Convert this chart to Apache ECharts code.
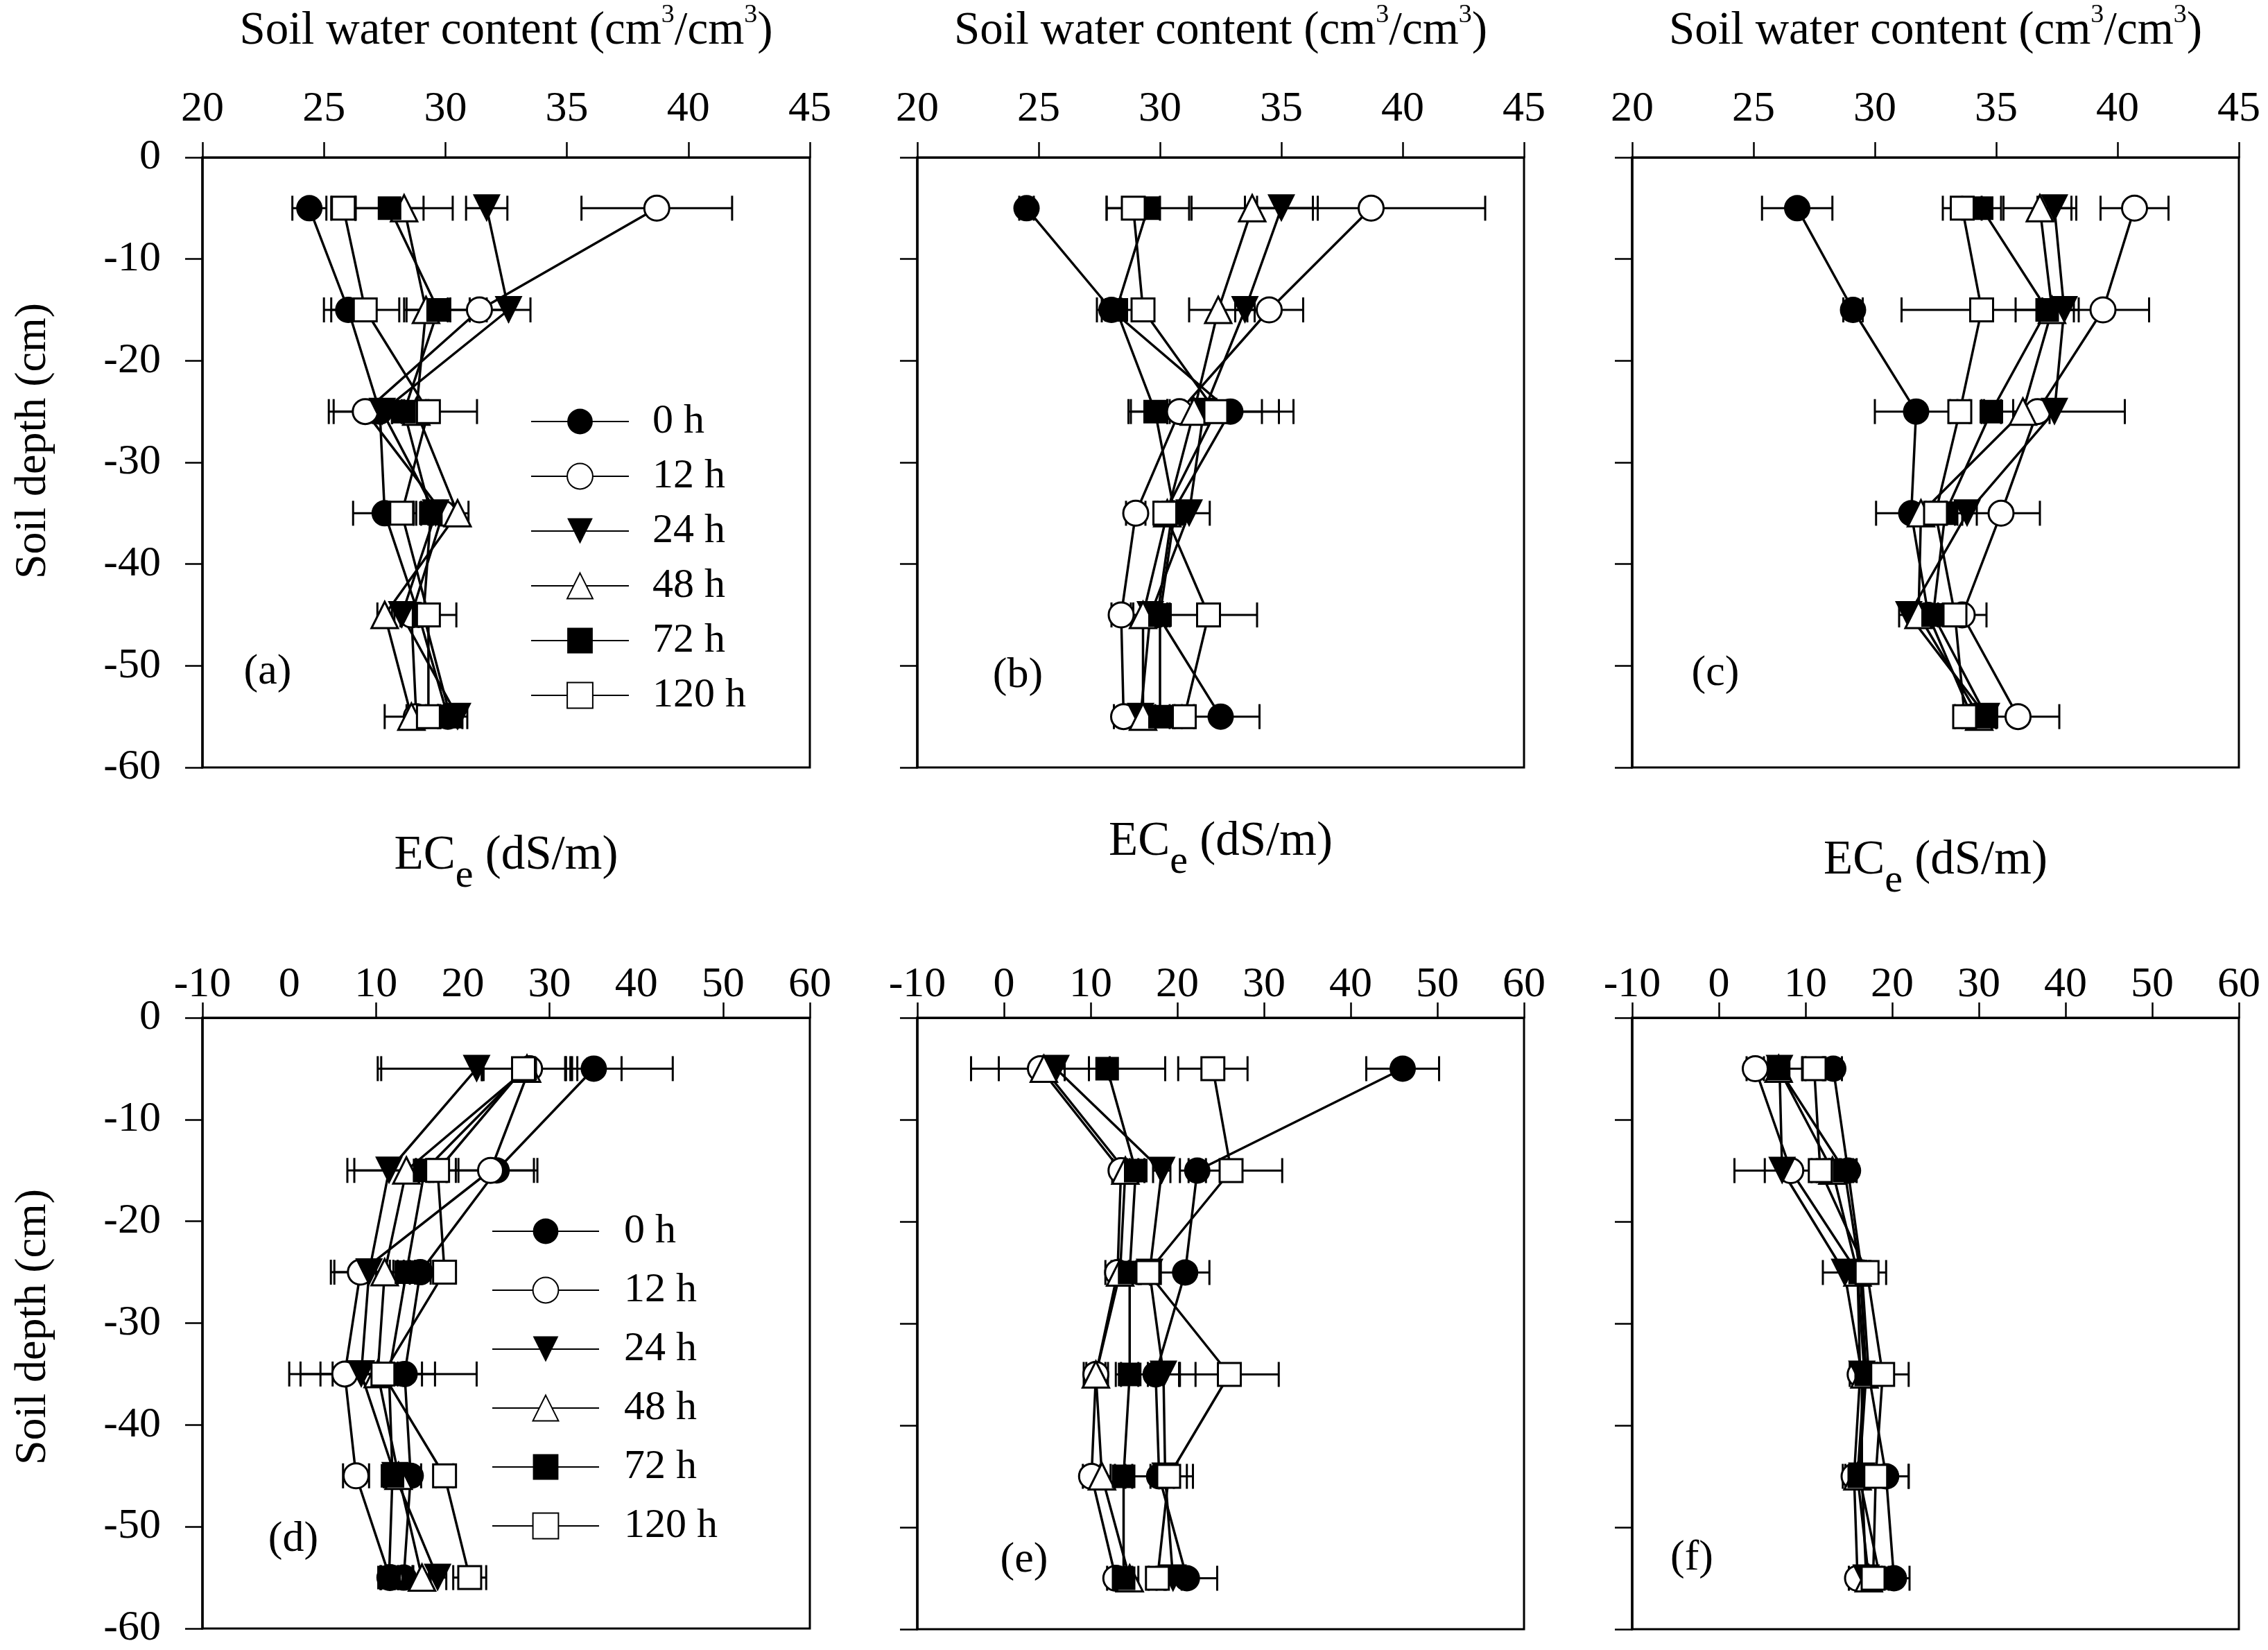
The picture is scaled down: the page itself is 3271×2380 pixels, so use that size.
<!DOCTYPE html>
<html><head><meta charset="utf-8">
<script src="https://cdn.jsdelivr.net/npm/echarts@6/dist/echarts.min.js"></script>
<style>html,body{margin:0;padding:0;background:#fff}#c{width:3271px;height:2380px}</style>
</head><body><div id="c"></div>
<script>
// ---------------- DATA ----------------
const depths = [-5, -15, -25, -35, -45, -55];
const timeNames = ['0 h', '12 h', '24 h', '48 h', '72 h', '120 h'];
const swcTicks = [20, 25, 30, 35, 40, 45];
const ecTicks = [-10, 0, 10, 20, 30, 40, 50, 60];
const depthTicks = [0, -10, -20, -30, -40, -50, -60];

// rows: 0 h, 12 h, 24 h, 48 h, 72 h, 120 h ; columns: depths
const swcA = [
  [24.4, 26.0, 27.3, 27.5, 28.9, 30.1],
  [38.7, 31.4, 26.7, 29.9, 28.6, 28.8],
  [31.7, 32.6, 27.4, 29.6, 28.2, 30.5],
  [28.3, 29.2, 28.8, 30.5, 27.5, 28.6],
  [27.7, 29.7, 28.3, 29.4, 29.1, 30.2],
  [25.8, 26.7, 29.3, 28.2, 29.3, 29.3]
];
const swcA_sd = [
  [0.7, 1.0, 1.9, 1.3, 0.4, 0.4],
  [3.1, 1.2, 1.5, 0.4, 0.4, 0.4],
  [0.85, 0.9, 0.4, 0.3, 0.3, 0.4],
  [2.0, 0.9, 0.5, 0.45, 0.3, 1.1],
  [1.4, 1.3, 0.5, 0.4, 0.4, 0.5],
  [0.5, 1.4, 2.0, 0.5, 1.15, 0.5]
];
const swcB = [
  [24.5, 28.0, 32.9, 30.5, 29.9, 32.5],
  [38.7, 34.5, 30.8, 29.0, 28.4, 28.5],
  [35.0, 33.5, 31.8, 31.2, 29.6, 29.2],
  [33.8, 32.4, 31.4, 30.3, 29.3, 29.3],
  [29.5, 28.2, 29.8, 30.6, 30.0, 30.0],
  [28.9, 29.3, 32.3, 30.2, 32.0, 31.0]
];
const swcB_sd = [
  [0.3, 0.4, 2.6, 0.4, 0.4, 1.6],
  [4.7, 1.4, 0.5, 0.4, 0.4, 0.4],
  [1.5, 0.4, 3.1, 0.85, 0.4, 0.4],
  [2.5, 1.2, 0.4, 0.4, 0.4, 0.5],
  [1.7, 0.8, 1.0, 0.4, 0.4, 0.4],
  [1.1, 0.4, 1.9, 0.4, 2.0, 0.4]
];
const swcC = [
  [26.8, 29.1, 31.7, 31.5, 32.2, 34.0],
  [40.7, 39.4, 36.7, 35.2, 33.6, 35.9],
  [37.4, 37.8, 37.4, 33.8, 31.4, 34.6],
  [36.8, 37.3, 36.1, 31.9, 31.8, 34.3],
  [34.4, 37.1, 34.8, 32.9, 32.4, 34.6],
  [33.6, 34.4, 33.5, 32.5, 33.3, 33.7]
];
const swcC_sd = [
  [1.45, 0.4, 1.7, 1.45, 0.4, 0.4],
  [1.4, 1.9, 0.5, 1.6, 1.0, 1.7],
  [0.7, 0.4, 2.9, 0.4, 0.4, 0.4],
  [1.5, 0.4, 0.4, 0.4, 0.4, 0.4],
  [0.8, 1.3, 0.4, 0.4, 0.4, 0.4],
  [0.8, 3.3, 0.4, 0.4, 0.4, 0.4]
];
const ecD = [
  [35.1, 23.9, 15.1, 13.3, 14.0, 13.2],
  [27.7, 23.2, 8.2, 6.4, 7.7, 11.6],
  [21.6, 11.5, 9.2, 8.3, 12.2, 17.1],
  [27.4, 13.5, 11.0, 10.2, 12.6, 15.3],
  [27.2, 15.6, 13.5, 11.5, 11.9, 11.5],
  [27.0, 17.1, 17.9, 10.8, 17.9, 20.8]
];
const ecD_sd = [
  [3.2, 4.7, 1.2, 8.3, 1.2, 1.0],
  [5.5, 5.0, 3.4, 6.4, 1.5, 1.0],
  [11.0, 4.8, 4.0, 7.0, 1.0, 1.0],
  [5.0, 6.0, 1.0, 6.6, 1.0, 1.0],
  [17.0, 1.0, 1.0, 1.0, 1.0, 1.0],
  [4.8, 1.0, 1.2, 1.0, 1.0, 1.9]
];
const ecE = [
  [46.0, 22.3, 20.9, 17.5, 17.9, 21.1],
  [4.2, 13.5, 13.1, 10.6, 10.1, 12.9],
  [6.0, 18.2, 16.8, 18.4, 18.6, 19.5],
  [4.6, 14.0, 13.4, 10.6, 11.3, 14.5],
  [11.9, 15.2, 14.5, 14.5, 13.8, 13.8],
  [24.1, 26.2, 16.6, 26.0, 19.0, 17.7]
];
const ecE_sd = [
  [4.2, 1.0, 2.8, 4.6, 3.9, 3.5],
  [8.0, 1.0, 1.4, 1.4, 1.0, 1.0],
  [1.0, 1.0, 1.0, 1.8, 1.0, 1.0],
  [5.2, 1.5, 1.0, 1.1, 1.0, 1.0],
  [6.7, 1.0, 1.0, 1.0, 1.0, 1.0],
  [4.0, 5.9, 1.0, 5.7, 2.1, 1.0]
];
const ecF = [
  [13.2, 14.9, 16.5, 17.3, 19.3, 20.2],
  [4.2, 8.3, 16.0, 16.3, 15.6, 16.0],
  [7.0, 7.3, 14.5, 16.5, 16.5, 17.0],
  [6.9, 13.1, 16.0, 16.8, 16.0, 17.3],
  [6.9, 14.5, 16.3, 17.0, 16.2, 18.6],
  [11.0, 11.7, 17.1, 18.9, 18.1, 17.8]
];
const ecF_sd = [
  [1.0, 1.0, 1.0, 1.0, 2.6, 1.8],
  [1.0, 3.0, 1.0, 1.2, 1.0, 1.0],
  [1.0, 5.5, 2.5, 1.0, 1.0, 1.0],
  [1.0, 1.0, 1.0, 1.0, 1.0, 1.0],
  [2.7, 1.0, 1.0, 1.0, 1.0, 1.0],
  [1.0, 1.0, 2.2, 3.0, 3.8, 1.0]
];
const panelLetters = ['(a)', '(b)', '(c)', '(d)', '(e)', '(f)'];

// ---------------- LAYOUT / STYLE ----------------
const FONT = 'Liberation Serif';
const panels = [
  {mean: swcA, sd: swcA_sd, ticks: swcTicks},
  {mean: swcB, sd: swcB_sd, ticks: swcTicks},
  {mean: swcC, sd: swcC_sd, ticks: swcTicks},
  {mean: ecD, sd: ecD_sd, ticks: ecTicks},
  {mean: ecE, sd: ecE_sd, ticks: ecTicks},
  {mean: ecF, sd: ecF_sd, ticks: ecTicks}
];
const grids = [
  {left: 292, top: 227, width: 876, height: 880},
  {left: 1323, top: 227, width: 875, height: 880},
  {left: 2354, top: 227, width: 875, height: 880},
  {left: 292, top: 1468, width: 876, height: 882},
  {left: 1323, top: 1468, width: 875, height: 882},
  {left: 2354, top: 1468, width: 875, height: 882}
];
const markStyles = [
  {symbol: 'circle', size: 38, fill: '#000', bw: 0, rot: 0},
  {symbol: 'circle', size: 36, fill: '#fff', bw: 3, rot: 0},
  {symbol: 'triangle', size: 40, fill: '#000', bw: 0, rot: 180},
  {symbol: 'triangle', size: 38, fill: '#fff', bw: 3, rot: 0},
  {symbol: 'rect', size: 34, fill: '#000', bw: 0, rot: 0},
  {symbol: 'rect', size: 33, fill: '#fff', bw: 3, rot: 0}
];

const xAxes = [], yAxes = [], series = [];
panels.forEach((p, k) => {
  const t = p.ticks;
  const isEC = k >= 3;
  xAxes.push({
    type: 'value', gridIndex: k, position: 'top',
    min: t[0], max: t[t.length - 1], interval: t[1] - t[0],
    axisLine: {show: true, onZero: false, lineStyle: {color: '#000', width: 3}},
    axisTick: {show: k !== 3, inside: false, length: 22, lineStyle: {color: '#000', width: 2.5}},
    axisLabel: {show: true, fontSize: 62, fontFamily: FONT, color: '#000', margin: isEC ? 16 : 38},
    splitLine: {show: false}
  });
  const showY = (k === 0 || k === 3);
  yAxes.push({
    type: 'value', gridIndex: k,
    min: depthTicks[depthTicks.length - 1], max: depthTicks[0], interval: 10,
    axisLine: {show: true, onZero: false, lineStyle: {color: '#000', width: 3.5}},
    axisTick: {show: true, inside: false, length: 25, lineStyle: {color: '#000', width: 2.5}},
    axisLabel: {show: showY, fontSize: 62, fontFamily: FONT, color: '#000', margin: 60},
    splitLine: {show: false}
  });
  // error bars
  const err = [];
  p.mean.forEach((row, i) => row.forEach((v, j) => {
    const s = p.sd[i][j];
    err.push([depths[j], v - s, v + s]);
  }));
  series.push({
    type: 'custom', name: 'err' + k, xAxisIndex: k, yAxisIndex: k, silent: true, z: 2,
    encode: {x: [1, 2], y: 0},
    data: err,
    renderItem: function (params, api) {
      const y = api.value(0), lo = api.value(1), hi = api.value(2);
      const a = api.coord([lo, y]), b = api.coord([hi, y]);
      const h = 18, st = {stroke: '#000', lineWidth: 3};
      return {type: 'group', children: [
        {type: 'line', shape: {x1: a[0], y1: a[1], x2: b[0], y2: b[1]}, style: st},
        {type: 'line', shape: {x1: a[0], y1: a[1] - h, x2: a[0], y2: a[1] + h}, style: st},
        {type: 'line', shape: {x1: b[0], y1: b[1] - h, x2: b[0], y2: b[1] + h}, style: st}
      ]};
    }
  });
  p.mean.forEach((row, i) => {
    const ms = markStyles[i];
    series.push({
      type: 'line', name: timeNames[i], xAxisIndex: k, yAxisIndex: k, z: 3,
      data: row.map((v, j) => [v, depths[j]]),
      symbol: ms.symbol, symbolSize: ms.size, symbolRotate: ms.rot, showAllSymbol: true,
      itemStyle: {color: ms.fill, borderColor: '#000', borderWidth: ms.bw},
      lineStyle: {color: '#000', width: 3.5},
      emphasis: {disabled: true}, silent: true, animation: false
    });
  });
});
// extra tick-only axis for panel (d): ticks at 10, 30, 50
xAxes.push({
  type: 'value', gridIndex: 3, position: 'top', min: -10, max: 60, interval: 20,
  axisLine: {show: false}, axisLabel: {show: false}, splitLine: {show: false},
  axisTick: {show: true, inside: false, length: 22, lineStyle: {color: '#000', width: 2.5}}
});

// ---------------- TEXT HELPERS ----------------
const mctx = document.createElement('canvas').getContext('2d');
function tw(text, size) { mctx.font = size + 'px "' + FONT + '"'; return mctx.measureText(text).width; }
function pieceText(pieces, cx, cy) {
  const total = pieces.reduce((s, q) => s + tw(q.t, q.s), 0);
  let x = cx - total / 2;
  const children = [];
  pieces.forEach(q => {
    children.push({type: 'text', x: x, y: cy + (q.dy || 0), silent: true,
      style: {text: q.t, fontSize: q.s, fontFamily: FONT, fill: '#000',
        align: 'left', verticalAlign: 'middle', textAlign: 'left', textVerticalAlign: 'middle'}});
    x += tw(q.t, q.s);
  });
  return children;
}
function swcTitle(cx) {
  return pieceText([{t: 'Soil water content (cm', s: 67}, {t: '3', s: 38, dy: -23}, {t: '/cm', s: 67},
    {t: '3', s: 38, dy: -23}, {t: ')', s: 67}], cx, 45);
}
function ecTitle(cx, cy) {
  return pieceText([{t: 'EC', s: 69}, {t: 'e', s: 58, dy: 29}, {t: ' (dS/m)', s: 69}], cx, cy);
}
function centerText(text, x, y, size, rot) {
  return {type: 'text', x: x, y: y, rotation: rot || 0, silent: true,
    style: {text: text, fontSize: size, fontFamily: FONT, fill: '#000',
      align: 'center', verticalAlign: 'middle', textAlign: 'center', textVerticalAlign: 'middle'}};
}

let graphics = [];
[0, 1, 2].forEach(k => { graphics = graphics.concat(swcTitle(grids[k].left + grids[k].width / 2)); });
const ecY = [1235, 1215, 1242];
[3, 4, 5].forEach((k, n) => { graphics = graphics.concat(ecTitle(grids[k].left + grids[k].width / 2, ecY[n])); });
graphics.push(centerText('Soil depth (cm)', 48, 636, 64, Math.PI / 2));
graphics.push(centerText('Soil depth (cm)', 48, 1914, 64, Math.PI / 2));
const letterPos = [[386, 970], [1468, 975], [2474, 972], [423, 2221], [1477, 2251], [2440, 2248]];
panelLetters.forEach((L, k) => graphics.push(centerText(L, letterPos[k][0], letterPos[k][1], 62)));

const legendCommon = {
  data: timeNames, orient: 'vertical', selectedMode: false, padding: 0,
  itemHeight: 46,
  textStyle: {fontSize: 60, fontFamily: FONT, color: '#000', lineHeight: 46}
};

const option = {
  animation: false,
  backgroundColor: '#fff',
  grid: grids.map(g => Object.assign({show: true, borderColor: '#000', borderWidth: 3, containLabel: false}, g)),
  xAxis: xAxes,
  yAxis: yAxes,
  legend: [
    Object.assign({}, legendCommon, {left: 765, top: 578, itemWidth: 141, itemGap: 19,
      textStyle: Object.assign({}, legendCommon.textStyle, {padding: [0, 0, 0, 29]})}),
    Object.assign({}, legendCommon, {left: 709, top: 1746, itemWidth: 154, itemGap: 25,
      textStyle: Object.assign({}, legendCommon.textStyle, {padding: [0, 0, 0, 31]})})
  ],
  series: series,
  graphic: graphics
};
const chart = echarts.init(document.getElementById('c'), null, {renderer: 'canvas'});
chart.setOption(option);
</script>
</body></html>
